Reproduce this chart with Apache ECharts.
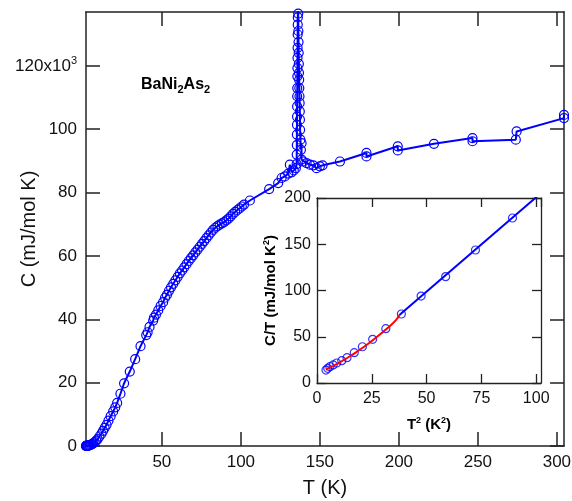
<!DOCTYPE html>
<html>
<head>
<meta charset="utf-8">
<script src="https://cdn.jsdelivr.net/npm/echarts@6/dist/echarts.min.js"></script>
<style>
  html, body { margin: 0; padding: 0; background: #fff; }
  #chart { width: 572px; height: 501px; }
</style>
</head>
<body>
<div id="chart"></div>
<script>
// main panel: T (K) vs C (10^3 mJ/mol K), in measurement order
let tMain = [1.9, 2.0, 2.1, 2.2, 2.3, 2.5, 2.7, 2.9, 3.2, 3.6, 4.1, 4.5, 5.3, 5.9, 6.5, 7.5, 8.5, 9.4,
    10.5, 11.8, 12.8, 13.8, 15.0, 16.2, 17.6, 19.2, 20.5, 21.7, 23.8, 26.1, 29.7, 33.1, 36.5, 40.1,
    41.0, 42.2, 44.5, 45.0, 46.3, 47.7, 49.2, 50.8, 52.0, 53.2, 54.5, 55.8, 57.2, 58.6, 60.0, 61.4,
    62.8, 64.2, 65.6, 67.0, 68.4, 69.8, 71.2, 72.6, 74.0, 75.4, 76.8, 78.2, 79.6, 81.0, 82.4, 83.8,
    85.2, 86.6, 88.0, 89.4, 90.8, 92.2, 93.6, 95.0, 96.4, 97.8, 99.2, 100.6, 102.0, 105.7,
    117.9, 123.6, 125.8, 127.8, 130.0, 131.0, 132.1, 133.5, 134.8,
    135.3, 135.35, 135.4, 135.45, 135.5, 135.55, 135.6, 135.65, 135.7, 135.75, 135.8, 135.85, 135.9, 135.95, 136.0, 136.05, 136.1,
    136.3, 136.4, 136.5, 136.6, 136.7, 136.8, 136.9, 137.0, 137.1, 137.2, 137.3, 137.4, 137.5, 137.7, 138.0, 138.4, 138.4,
    139.5, 141.6, 143.7, 145.8, 147.9, 150.0, 151.7, 162.7, 179.5, 179.5, 199.3, 199.3, 222.2,
    246.6, 246.6, 274.0, 274.5, 304.5, 304.5];
let cMain = [0.03, 0.03, 0.04, 0.04, 0.05, 0.06, 0.07, 0.09, 0.11, 0.15, 0.2, 0.3, 0.45, 0.6, 0.8, 1.2, 1.7, 2.2,
    3.0, 3.9, 4.8, 5.7, 6.7, 8.0, 9.4, 10.9, 12.2, 13.6, 16.5, 19.8, 23.5, 27.4, 31.5, 35.0,
    35.9, 37.6, 39.6, 40.5, 41.5, 42.8, 44.2, 45.4, 46.8, 47.7, 49.0, 50.1, 51.2, 52.3, 53.4, 54.5,
    55.4, 56.4, 57.4, 58.4, 59.3, 60.2, 61.1, 62.0, 62.9, 63.8, 64.7, 65.6, 66.5, 67.4, 68.2, 68.9,
    69.4, 69.9, 70.3, 70.7, 71.2, 71.8, 72.5, 73.3, 73.9, 74.5, 75.0, 75.6, 76.2, 77.5,
    81.1, 83.0, 84.6, 85.1, 86.0, 88.8, 86.4, 87.0, 87.7,
    89.0, 92.0, 95.0, 98.3, 101.4, 104.0, 107.2, 110.4, 113.0, 116.7, 119.3, 122.5, 125.7, 129.9, 133.0, 135.3, 137.4,
    136.5, 131.0, 127.5, 124.1, 120.6, 117.8, 115.6, 113.0, 110.4, 108.3, 105.6, 103.0, 99.8, 96.7, 93.5, 95.6, 90.4,
    89.8, 89.3, 88.8, 88.6, 87.7, 88.3, 88.6, 89.8, 92.5, 91.4, 94.6, 93.3, 95.4,
    97.2, 96.2, 96.7, 99.3, 103.5, 104.5];

// inset: T^2 (K^2) vs C/T (mJ/mol K^2)
let t2Inset = [4.1, 4.9, 5.9, 7.4, 9.0, 11.3, 13.7, 17.0, 20.7, 25.4, 31.4, 38.5, 47.5, 58.7, 72.3, 89.2];
let ctInset = [14.0, 15.9, 17.6, 19.5, 21.6, 24.1, 27.4, 32.8, 39.2, 47.2, 58.7, 74.6, 94.0, 115.0, 143.8, 178.4];
let t2Red = [4, 6, 8, 10, 12, 15, 18, 21, 24, 27, 30, 33, 36, 37.6];
let ctRed = [14.5, 16.8, 19.3, 21.9, 24.6, 28.9, 33.5, 38.4, 43.6, 49.1, 55.0, 61.2, 67.9, 73.5];
let t2Blue = [37.6, 102.2];
let ctBlue = [73.5, 205.3];

let mainTicksX = [50, 100, 150, 200, 250, 300];
let mainTicksY = [0, 20, 40, 60, 80, 100, 120];

const FONT = "'Liberation Sans', Arial, Helvetica, sans-serif";
const BLUE = "#0000ff";
const AX = "#222";

function zip(a, b) { return a.map((v, i) => [v, b[i]]); }

function frameAxis(grid, pos, min, max, extra) {
    return Object.assign({
        gridIndex: grid, type: "value", position: pos, min: min, max: max,
        nameMoveOverlap: false,
        axisLine: { show: true, onZero: false, lineStyle: { color: AX, width: 1.5 } },
        axisTick: { show: true, inside: true, length: 14, lineStyle: { color: AX, width: 1.5 } },
        axisLabel: { show: false },
        splitLine: { show: false }
    }, extra || {});
}

let chart = echarts.init(document.getElementById("chart"));

let option = {
    animation: false,
    backgroundColor: "#fff",
    textStyle: { fontFamily: FONT },
    title: {
        left: 136, top: 70,
        text: "{a|BaNi}{b|2}{a|As}{b|2}",
        textStyle: {
            rich: {
                a: { fontFamily: FONT, fontSize: 16, fontWeight: "bold", color: "#000" },
                b: { fontFamily: FONT, fontSize: 11, fontWeight: "bold", color: "#000", padding: [9, 0, 0, 0] }
            }
        }
    },
    grid: [
        { left: 86, top: 12, right: 8, bottom: 55, outerBoundsMode: "none", containLabel: false },
        { left: 317, top: 198, right: 31, bottom: 118, outerBoundsMode: "none", containLabel: false }
    ],
    xAxis: [
        frameAxis(0, "bottom", 2, 304.5, {
            name: "T (K)", nameLocation: "middle", nameGap: 32,
            nameTextStyle: { fontSize: 20, color: "#111", fontFamily: FONT },
            axisTick: { show: true, inside: true, length: 14, customValues: mainTicksX, lineStyle: { color: AX, width: 1.5 } },
            axisLabel: { show: true, customValues: mainTicksX, margin: 8, fontSize: 17, color: "#111", fontFamily: FONT }
        }),
        frameAxis(0, "top", 2, 304.5, {
            axisTick: { show: true, inside: true, length: 14, customValues: mainTicksX, lineStyle: { color: AX, width: 1.5 } }
        }),
        frameAxis(1, "bottom", 0, 102.2, {
            interval: 25,
            name: "{a|T}{s|2}{a| (K}{s|2}{a|)}", nameLocation: "middle", nameGap: 33,
            nameTextStyle: {
                rich: {
                    a: { fontSize: 15, fontWeight: "bold", color: "#000", fontFamily: FONT },
                    s: { fontSize: 9, fontWeight: "bold", color: "#000", fontFamily: FONT, padding: [0, 0, 8, 0] }
                }
            },
            axisLine: { show: true, onZero: false, lineStyle: { color: AX, width: 1.3 } },
            axisTick: { show: true, inside: true, length: 9, lineStyle: { color: AX, width: 1.3 } },
            axisLabel: { show: true, margin: 8, fontSize: 16, color: "#111", fontFamily: FONT }
        }),
        frameAxis(1, "top", 0, 102.2, {
            interval: 25,
            axisLine: { show: true, onZero: false, lineStyle: { color: AX, width: 1.3 } },
            axisTick: { show: true, inside: true, length: 9, lineStyle: { color: AX, width: 1.3 } }
        })
    ],
    yAxis: [
        frameAxis(0, "left", 0, 137, {
            interval: 20,
            name: "C (mJ/mol K)", nameLocation: "middle", nameGap: 47,
            nameTextStyle: { fontSize: 20, color: "#111", fontFamily: FONT },
            axisTick: { show: true, inside: true, length: 14, customValues: mainTicksY, lineStyle: { color: AX, width: 1.5 } },
            axisLabel: {
                show: true, customValues: mainTicksY, margin: 9, fontSize: 17, color: "#111", fontFamily: FONT,
                formatter: function (v) { return v === 120 ? "{a|120x10}{s|3}" : String(v); },
                rich: {
                    a: { fontSize: 17, color: "#111", fontFamily: FONT },
                    s: { fontSize: 11, color: "#111", fontFamily: FONT, padding: [0, 0, 10, 0] }
                }
            }
        }),
        frameAxis(0, "right", 0, 137, {
            axisTick: { show: true, inside: true, length: 14, customValues: mainTicksY, lineStyle: { color: AX, width: 1.5 } }
        }),
        frameAxis(1, "left", 0, 200, {
            interval: 50,
            name: "{a|C/T (mJ/mol K}{s|2}{a|)}", nameLocation: "middle", nameGap: 38,
            nameTextStyle: {
                rich: {
                    a: { fontSize: 15, fontWeight: "bold", color: "#000", fontFamily: FONT },
                    s: { fontSize: 9, fontWeight: "bold", color: "#000", fontFamily: FONT, padding: [0, 0, 8, 0] }
                }
            },
            axisLine: { show: true, onZero: false, lineStyle: { color: AX, width: 1.3 } },
            axisTick: { show: true, inside: true, length: 9, lineStyle: { color: AX, width: 1.3 } },
            axisLabel: { show: true, margin: 6, fontSize: 16, color: "#111", fontFamily: FONT }
        }),
        frameAxis(1, "right", 0, 200, {
            interval: 50,
            axisLine: { show: true, onZero: false, lineStyle: { color: AX, width: 1.3 } },
            axisTick: { show: true, inside: true, length: 9, lineStyle: { color: AX, width: 1.3 } }
        })
    ],
    series: [
        {
            type: "line", xAxisIndex: 0, yAxisIndex: 0,
            data: zip(tMain, cMain),
            symbol: "circle", symbolSize: 9, showSymbol: true,
            itemStyle: { color: "rgba(0,0,0,0)", borderColor: BLUE, borderWidth: 1.2 },
            lineStyle: { color: BLUE, width: 2 }
        },
        {
            type: "line", xAxisIndex: 2, yAxisIndex: 2,
            data: zip(t2Blue, ctBlue),
            showSymbol: false, lineStyle: { color: BLUE, width: 2 }
        },
        {
            type: "line", xAxisIndex: 2, yAxisIndex: 2,
            data: zip(t2Red, ctRed), smooth: true,
            showSymbol: false, lineStyle: { color: "#ff0000", width: 2 }
        },
        {
            type: "scatter", xAxisIndex: 2, yAxisIndex: 2,
            data: zip(t2Inset, ctInset),
            symbol: "circle", symbolSize: 8,
            itemStyle: { color: "rgba(0,0,0,0)", borderColor: BLUE, borderWidth: 1.2 }
        }
    ]
};

chart.setOption(option);
</script>
</body>
</html>
